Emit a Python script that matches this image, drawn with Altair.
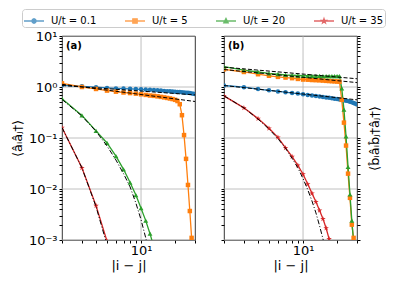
import altair as alt
import pandas as pd

SERIES = ["U/t = 0.1", "U/t = 5", "U/t = 20", "U/t = 35"]
COLORS = ["#1f77b4", "#ff7f0e", "#2ca02c", "#d62728"]

# ---------------- panel (a) data ----------------
a_blue_x = list(range(2, 31))
a_blue_y = [1.08, 1.03, 0.99, 0.96, 0.94, 0.93, 0.92, 0.91, 0.90, 0.89, 0.88, 0.87,
            0.86, 0.85, 0.84, 0.83, 0.825, 0.82, 0.81, 0.80, 0.795, 0.79, 0.78,
            0.775, 0.77, 0.76, 0.75, 0.74, 0.73]
a_orange_x = list(range(2, 29))
a_orange_y = [1.18, 1.0, 0.915, 0.85, 0.81, 0.78, 0.76, 0.74, 0.72, 0.70, 0.68,
              0.67, 0.655, 0.64, 0.625, 0.61, 0.595, 0.58, 0.56, 0.53, 0.46, 0.28,
              0.114, 0.039, 0.012, 0.0037, 0.0011]
a_green_x = list(range(2, 14))
a_green_y = [0.59, 0.277, 0.138, 0.08, 0.044, 0.0243, 0.0134, 0.0076, 0.0042,
             0.0024, 0.00133, 0.00072]
a_red_x = [2, 3, 4, 5]
a_red_y = [0.16, 0.026, 0.0047, 0.00095]

# fits (a)
a_fit_blue_x = [2, 30]
a_fit_blue_y = [1.07, 0.70]
a_fit_orange_x = [2, 30]
a_fit_orange_y = [1.13, 0.52]
a_fit_green_x = list(range(2, 13))
a_fit_green_y = [0.57, 0.27, 0.135, 0.07, 0.037, 0.02, 0.011, 0.0053, 0.0025,
                 0.0011, 0.0005]
a_fit_red_x = [2, 3, 4, 5]
a_fit_red_y = [0.16, 0.026, 0.0045, 0.0008]

# ---------------- panel (b) data ----------------
b_blue_x = list(range(2, 31))
b_blue_y = [1.07, 0.99, 0.91, 0.86, 0.82, 0.79, 0.76, 0.745, 0.72, 0.70, 0.68,
            0.665, 0.65, 0.635, 0.625, 0.615, 0.60, 0.59, 0.58, 0.57, 0.56, 0.55,
            0.54, 0.53, 0.515, 0.50, 0.485, 0.47, 0.455]
b_orange_x = list(range(2, 29))
b_orange_y = [2.22, 1.97, 1.78, 1.66, 1.58, 1.53, 1.49, 1.44, 1.40, 1.39, 1.37,
              1.36, 1.35, 1.335, 1.32, 1.31, 1.30, 1.29, 1.28, 1.27, 0.56, 0.2,
              0.071, 0.02, 0.0067, 0.002, 0.0011]
b_green_x = list(range(2, 29))
b_green_y = [2.5, 2.14, 1.97, 1.85, 1.78, 1.72, 1.70, 1.68, 1.66, 1.66, 1.65,
             1.65, 1.65, 1.64, 1.64, 1.64, 1.63, 1.63, 1.63, 1.63, 0.94, 0.36,
             0.108, 0.027, 0.0078, 0.0024, 0.0009]
b_red_x = list(range(2, 19))
b_red_y = [0.67, 0.39, 0.24, 0.155, 0.103, 0.064, 0.043, 0.029, 0.0195, 0.0125,
           0.0082, 0.0056, 0.0038, 0.0026, 0.0017, 0.00105, 0.0007]

# fits (b)
b_fit_blue_x = [2, 30]
b_fit_blue_y = [1.07, 0.56]
b_fit_orange_x = [2, 30]
b_fit_orange_y = [2.2, 1.22]
b_fit_green_x = [2, 30]
b_fit_green_y = [2.45, 1.45]
b_fit_red_x = list(range(2, 17))
b_fit_red_y = [0.67, 0.39, 0.235, 0.15, 0.097, 0.063, 0.04, 0.026, 0.016, 0.0097,
               0.0058, 0.0034, 0.0019, 0.00105, 0.0006]

# axis tick values / labels
X_TICKS = [2, 3, 4, 5, 6, 7, 8, 9, 10, 20, 30]
X_GRID = [10]
Y_GRID = [0.001, 0.01, 0.1, 1, 10]
Y_TICKS = [k * 10.0 ** e for e in range(-3, 1) for k in range(1, 10)] + [10]
Y_LABEL_EXPR = ("abs(datum.value-10)<1e-9 ? '10¹' : abs(datum.value-1)<1e-9 ? '10⁰' : "
                "abs(datum.value-0.1)<1e-9 ? '10⁻¹' : abs(datum.value-0.01)<1e-9 ? '10⁻²' : "
                "abs(datum.value-0.001)<1e-9 ? '10⁻³' : ''")
X_LABEL_EXPR = "datum.value == 10 ? '10¹' : ''"

STAR = ("M0,-1L0.2245,-0.309L0.951,-0.309L0.363,0.118L0.588,0.809L0,0.382L-0.588,0.809"
        "L-0.363,0.118L-0.951,-0.309L-0.2245,-0.309Z")
SHAPES = ["circle", "square", "triangle-up", STAR]
SIZES = [20, 20, 24, 34]


def leg_path(i):
    line = "M-1,0L1,0"
    r = 0.22
    if i == 0:
        m = (f"M{r},0L{r*0.7:.3f},{r*0.7:.3f}L0,{r}L{-r*0.7:.3f},{r*0.7:.3f}L{-r},0"
             f"L{-r*0.7:.3f},{-r*0.7:.3f}L0,{-r}L{r*0.7:.3f},{-r*0.7:.3f}Z")
    elif i == 1:
        m = f"M{-r},{-r}L{r},{-r}L{r},{r}L{-r},{r}Z"
    elif i == 2:
        m = f"M0,{-r*1.15:.3f}L{r},{r*0.8:.3f}L{-r},{r*0.8:.3f}Z"
    else:
        pts = [(0, -1), (0.2245, -0.309), (0.951, -0.309), (0.363, 0.118), (0.588, 0.809),
               (0, 0.382), (-0.588, 0.809), (-0.363, 0.118), (-0.951, -0.309), (-0.2245, -0.309)]
        s = 0.23
        m = "M" + "L".join(f"{px*s:.3f},{py*s:.3f}" for px, py in pts) + "Z"
    return line + m


LEG_PATHS = [leg_path(i) for i in range(4)]


def frame(xs_list, ys_list):
    rows = []
    for s, xs, ys in zip(SERIES, xs_list, ys_list):
        for xv, yv in zip(xs, ys):
            rows.append({"series": s, "x": xv, "y": yv})
    return pd.DataFrame(rows)


def fit_frame(xs_list, ys_list, styles):
    rows = []
    for k, (xs, ys, st) in enumerate(zip(xs_list, ys_list, styles)):
        for xv, yv in zip(xs, ys):
            rows.append({"fid": k, "style": st, "x": xv, "y": yv})
    return pd.DataFrame(rows)


a_data = frame([a_blue_x, a_orange_x, a_green_x, a_red_x],
               [a_blue_y, a_orange_y, a_green_y, a_red_y])
a_fits = fit_frame([a_fit_blue_x, a_fit_orange_x, a_fit_green_x, a_fit_red_x],
                   [a_fit_blue_y, a_fit_orange_y, a_fit_green_y, a_fit_red_y],
                   ["dash", "dash", "dashdot", "dashdot"])
b_data = frame([b_blue_x, b_orange_x, b_green_x, b_red_x],
               [b_blue_y, b_orange_y, b_green_y, b_red_y])
b_fits = fit_frame([b_fit_blue_x, b_fit_orange_x, b_fit_green_x, b_fit_red_x],
                   [b_fit_blue_y, b_fit_orange_y, b_fit_green_y, b_fit_red_y],
                   ["dash", "dash", "dash", "dashdot"])

FONT = "DejaVu Sans"
W, H = 133, 204


def xs():
    return alt.Scale(type="log", domain=[2, 30], nice=False)


def ys():
    return alt.Scale(type="log", domain=[0.001, 10], nice=False)


x_axis = alt.Axis(values=X_TICKS, labelExpr=X_LABEL_EXPR, tickSize=3, grid=False,
                  domain=False, title="|i − j|", labelFontSize=13, titleFontSize=13,
                  labelFont=FONT, titleFont=FONT, labelColor="black", titleColor="black",
                  tickColor="black", labelPadding=1, titlePadding=2, labelOverlap=False,
                  titleFontWeight="normal", labelFlush=False)


def y_axis_left(with_labels, title=None):
    kw = dict(values=Y_TICKS, tickSize=3, grid=False, domain=False, tickColor="black",
              labelOverlap=False)
    if with_labels:
        kw.update(labelExpr=Y_LABEL_EXPR, labelFontSize=13, labelFont=FONT,
                  labelColor="black", labelPadding=2, title=title, titleFont=FONT,
                  titleFontSize=13, titleColor="black", titlePadding=4,
                  titleFontWeight="normal", labelFlush=False)
    else:
        kw.update(labels=False, title=None)
    return alt.Axis(**kw)


LEG = dict(title=None, orient="none", legendX=-40, legendY=-27,
           direction="horizontal", strokeColor="#cccccc", cornerRadius=3,
           padding=1, fillColor="white", labelFont=FONT, labelFontSize=10,
           labelColor="black", labelOffset=6, columnPadding=25, gridAlign="none",
           symbolStrokeWidth=1.3, symbolSize=400)


def panel(data, fits, label, left_labels, ytitle, right_title=None, legend=False):
    layers = []
    gx = pd.DataFrame({"gx": X_GRID})
    gy = pd.DataFrame({"gy": Y_GRID})
    layers.append(alt.Chart(gx).mark_rule(color="#b0b0b0", strokeWidth=0.8).encode(
        x=alt.X("gx:Q", scale=xs(), axis=None)))
    layers.append(alt.Chart(gy).mark_rule(color="#b0b0b0", strokeWidth=0.8).encode(
        y=alt.Y("gy:Q", scale=ys(), axis=None)))
    color_enc = alt.Color("series:N", scale=alt.Scale(domain=SERIES, range=COLORS),
                          legend=alt.Legend(**LEG) if legend else None)
    layers.append(alt.Chart(data).mark_line(clip=True, strokeWidth=1.3).encode(
        x=alt.X("x:Q", scale=xs(), axis=x_axis),
        y=alt.Y("y:Q", scale=ys(), axis=y_axis_left(left_labels, ytitle)),
        color=color_enc,
    ))
    if legend:
        # carrier of the legend symbols (line + marker); it draws nothing in the plot
        shape_enc = alt.Shape("series:N", scale=alt.Scale(domain=SERIES, range=LEG_PATHS),
                              legend=alt.Legend(**LEG))
        layers.append(alt.Chart(data).transform_filter("datum.x > 1000").mark_point(
            filled=True, size=400, strokeWidth=1.3, clip=True).encode(
            x=alt.X("x:Q", scale=xs(), axis=None),
            y=alt.Y("y:Q", scale=ys(), axis=None),
            color=color_enc, shape=shape_enc))
    for i, s in enumerate(SERIES):
        layers.append(alt.Chart(data).transform_filter(alt.datum.series == s).mark_point(
            filled=True, shape=SHAPES[i], size=SIZES[i], color=COLORS[i], opacity=1,
            clip=True, strokeWidth=0).encode(
            x=alt.X("x:Q", scale=xs(), axis=None),
            y=alt.Y("y:Q", scale=ys(), axis=None)))
    if right_title:
        yfit_axis = alt.Axis(orient="right", values=Y_TICKS, tickSize=3, grid=False,
                             domain=False, labels=False, tickColor="black",
                             title=right_title, titleFont=FONT, titleFontSize=13,
                             titleColor="black", titleFontWeight="normal",
                             titleAngle=270, titleBaseline="top", titlePadding=8)
    else:
        yfit_axis = None
    layers.append(alt.Chart(fits).mark_line(clip=True, color="black", strokeWidth=1.0).encode(
        x=alt.X("x:Q", scale=xs(), axis=None),
        y=alt.Y("y:Q", scale=ys(), axis=yfit_axis),
        detail="fid:N",
        strokeDash=alt.StrokeDash("style:N", scale=alt.Scale(
            domain=["dash", "dashdot"], range=[[4, 2], [5, 2, 1, 2]]), legend=None),
    ))
    layers.append(alt.Chart(pd.DataFrame({"t": [label]})).mark_text(
        align="left", baseline="middle", font=FONT, fontSize=10, fontWeight="bold",
        color="black").encode(x=alt.value(4), y=alt.value(10), text="t:N"))
    return alt.layer(*layers).resolve_axis(x="independent", y="independent").properties(
        width=W, height=H)


pa = panel(a_data, a_fits, "(a)", True, "⟨âᵢâⱼ†⟩", legend=True)
pb = panel(b_data, b_fits, "(b)", False, None, right_title="⟨b̂ᵢâᵢb̂ⱼ†âⱼ†⟩")

chart = alt.hconcat(pa, pb, spacing=24).properties(
    padding={"left": 2, "top": 0, "right": 0, "bottom": 0},
    background="white",
).configure_view(stroke="black", strokeWidth=0.8)

chart.save("out.html", embed_options={"renderer": "svg", "actions": False})
